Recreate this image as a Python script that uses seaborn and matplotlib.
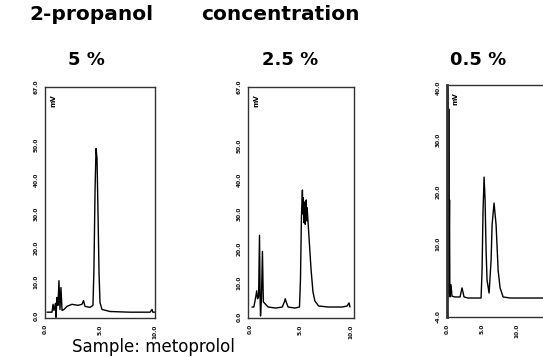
import matplotlib
matplotlib.use("Agg")
import matplotlib.pyplot as plt
import seaborn as sns
import pandas as pd

sns.set_style("white")
plt.rcParams['font.family'] = ['DejaVu Sans']
plt.rcParams['text.color'] = 'black'

# ---- data (retention time in min, detector signal in mV) ----
t_5 = [0.18, 0.64, 0.73, 0.82, 0.95, 1.0, 1.09, 1.18, 1.27, 1.36, 1.45, 1.55, 1.73, 2.0,
       2.45, 3.0, 3.36, 3.5, 3.64, 4.09, 4.36, 4.45, 4.55, 4.64, 4.73, 4.82, 4.91, 5.0,
       5.18, 5.9, 7.7, 9.55, 9.73, 9.8, 10.0]
s_5 = [1.2, 1.2, 3.5, 1.7, 3.8, -0.3, 5.5, 3.2, 10.4, 2.0, 8.4, 1.7, 2.0, 2.9,
       3.5, 3.2, 3.5, 4.6, 2.9, 2.6, 3.2, 14.0, 37.0, 49.0, 46.0, 30.0, 12.8, 4.0,
       2.0, 1.4, 1.2, 1.2, 2.0, 1.2, 1.2]

t_25 = [0.19, 0.38, 0.57, 0.66, 0.75, 0.85, 0.94, 1.0, 1.04, 1.13, 1.23, 1.32, 1.51, 1.79,
        2.55, 3.2, 3.4, 3.49, 3.58, 3.77, 4.43, 4.9, 5.0, 5.09, 5.19, 5.24, 5.28, 5.33,
        5.38, 5.43, 5.47, 5.52, 5.57, 5.62, 5.66, 5.85, 6.04, 6.23, 6.42, 6.79, 7.74,
        9.15, 9.62, 9.81, 9.9]
s_25 = [2.9, 2.9, 5.9, 7.6, 5.3, 5.9, 23.8, 5.3, 0.3, 5.3, 19.1, 4.4, 3.8, 2.9,
        2.6, 2.9, 4.4, 5.3, 4.4, 2.9, 2.6, 2.9, 11.2, 28.8, 37.0, 30.0, 34.7, 27.5,
        29.7, 33.5, 27.0, 32.4, 34.1, 28.0, 31.8, 22.9, 14.1, 7.4, 4.7, 3.2, 2.9,
        2.9, 3.2, 4.1, 2.9]

t_05 = [0.0, 0.04, 0.07, 0.1, 0.14, 0.17, 0.21, 0.25, 0.29, 0.32, 0.36, 0.4, 0.43, 0.57,
        0.71, 1.14, 1.86, 2.14, 2.43, 3.0, 4.0, 4.86, 5.0, 5.14, 5.29, 5.43, 5.57, 5.71,
        6.0, 6.29, 6.43, 6.71, 7.0, 7.29, 7.57, 8.0, 9.0, 11.86, 15.4]
s_05 = [-0.35, 40.0, -0.7, 40.0, 1.0, 38.7, 0.5, 36.0, 3.1, 12.0, 18.5, 2.0, -0.15, 2.2,
        0.0, -0.15, -0.15, 1.6, -0.15, -0.35, -0.35, -0.35, 5.0, 16.6, 22.9, 18.5, 8.9, 3.1,
        0.6, 7.0, 13.7, 17.9, 13.7, 5.0, 1.6, -0.15, -0.35, -0.35, -0.35]

conc_labels = ["5 %", "2.5 %", "0.5 %"]

x_ticks_5 = [0, 5, 10]
x_ticklabels_5 = ["0.0", "5.0", "10.0"]
y_ticks_5 = [0, 10, 20, 30, 40, 50, 67]
y_ticklabels_5 = ["0.0", "10.0", "20.0", "30.0", "40.0", "50.0", "67.0"]

x_ticks_25 = [0, 5, 10]
x_ticklabels_25 = ["0.0", "5.0", "10.0"]
y_ticks_25 = [0, 10, 20, 30, 40, 50, 67]
y_ticklabels_25 = ["0.0", "10.0", "20.0", "30.0", "40.0", "50.0", "67.0"]

x_ticks_05 = [0, 5, 10]
x_ticklabels_05 = ["0.0", "5.0", "10.0"]
y_ticks_05 = [-4, 10, 20, 30, 40]
y_ticklabels_05 = ["-4.0", "10.0", "20.0", "30.0", "40.0"]

W, H = 543, 357
fig = plt.figure(figsize=(W / 100, H / 100), dpi=100)

panels = [
    dict(t=t_5, s=s_5, rect=[45, 87, 110, 231], xlim=(0, 10), ylim=(-0.5, 67),
         xt=x_ticks_5, xtl=x_ticklabels_5, yt=y_ticks_5, ytl=y_ticklabels_5),
    dict(t=t_25, s=s_25, rect=[248, 87, 106, 231], xlim=(-0.2, 10.3), ylim=(-0.3, 67),
         xt=x_ticks_25, xtl=x_ticklabels_25, yt=y_ticks_25, ytl=y_ticklabels_25),
    dict(t=t_05, s=s_05, rect=[447, 85, 108, 232], xlim=(0, 15.4), ylim=(-4, 40.6),
         xt=x_ticks_05, xtl=x_ticklabels_05, yt=y_ticks_05, ytl=y_ticklabels_05),
]

for i, p in enumerate(panels):
    l, tp, w, h = p["rect"]
    ax = fig.add_axes([l / W, (H - tp - h) / H, w / W, h / H])
    df = pd.DataFrame({"time": p["t"], "signal": p["s"]})
    sns.lineplot(data=df, x="time", y="signal", ax=ax, color="black", lw=1.0,
                 estimator=None, sort=False)
    ax.set_xlim(*p["xlim"])
    ax.set_ylim(*p["ylim"])
    ax.set_xticks(p["xt"])
    ax.set_xticklabels(p["xtl"], rotation=90, fontsize=4.2, fontweight="bold")
    ax.set_yticks(p["yt"])
    ax.set_yticklabels(p["ytl"], rotation=90, fontsize=4.2, va="center",
                       fontweight="bold")
    ax.tick_params(axis="both", length=3, width=0.8, pad=1.5, direction="out",
                   colors="#111111")
    ax.set_xlabel("")
    ax.set_ylabel("")
    for sp in ax.spines.values():
        sp.set_color("#333333")
        sp.set_linewidth(1.0)
    if i == 2:
        ax.spines["left"].set_linewidth(2.0)
    ax.text(0.08, 0.97, "mV", transform=ax.transAxes, rotation=90, fontsize=5,
            va="top", ha="center", fontweight="bold")

fig.text(91 / W, 1 - 15 / H, "2-propanol", fontsize=14.5,
         fontweight="bold", ha="center", va="center")
fig.text(280 / W, 1 - 15 / H, "concentration", fontsize=14.5,
         fontweight="bold", ha="center", va="center")
for lbl, cx in zip(conc_labels, [86, 290, 478]):
    fig.text(cx / W, 1 - 60 / H, lbl, fontsize=13, fontweight="bold",
             ha="center", va="center")
fig.text(72 / W, 1 - 347 / H, "Sample: metoprolol", fontsize=12,
         ha="left", va="center")

fig.savefig("out.png", dpi=100)
